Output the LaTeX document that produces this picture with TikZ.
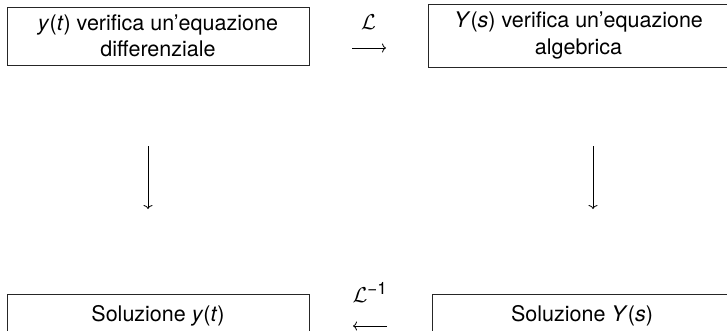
\RequirePackage{fix-cm}
\documentclass[tikz,border=0pt]{standalone}
\usepackage{fontspec}
\setmainfont{TeX Gyre Heros}
\usetikzlibrary{arrows.meta}

\tikzset{
  frame/.style={draw=black!85, line width=0.9pt, inner sep=0pt,
    align=center, font=\fontsize{21.5}{26.5}\selectfont},
  lbl/.style={inner sep=0pt, anchor=base, font=\fontsize{21.5}{26.5}\selectfont},
  arr/.style={line width=0.8pt, -{Computer Modern Rightarrow[length=4pt,width=9pt]}},
}
\newcommand{\vy}{\textit{y}}
\newcommand{\vt}{\textit{t}}
\newcommand{\vY}{\textit{Y}}
\newcommand{\vs}{\textit{s}}

\begin{document}
\begin{tikzpicture}[x=1pt,y=-1pt]
  \useasboundingbox (0,0) rectangle (727,330);

  % the four boxes
  \node[frame, minimum width=302pt, minimum height=58pt] (ode) at (158,36)
    {\vy(\vt) verifica un’equazione\\differenziale};
  \node[frame, minimum width=301pt, minimum height=63pt] (alg) at (578.5,35.5)
    {\vY(\vs) verifica un’equazione\\algebrica};
  \node[frame, minimum width=302pt, minimum height=44pt] (soly) at (158,316)
    {Soluzione \vy(\vt)};
  \node[frame, minimum width=300pt, minimum height=44pt] (solY) at (582,316)
    {Soluzione \vY(\vs)};

  % end points of the transform arrows
  \coordinate (fa) at (352,48);
  \coordinate (fb) at (386,48);
  \coordinate (ia) at (387,326);
  \coordinate (ib) at (353,326);
  \coordinate (la) at (148,146);
  \coordinate (lb) at (148,209);
  \coordinate (ra) at (593,146);
  \coordinate (rb) at (593,209);

  % transform and inverse transform
  \node[lbl] (L) at (368.5,29.5) {$\mathcal{L}$};
  \draw[arr] (fa) -- (fb);
  \node[lbl] (Linv) at (370,302) {$\mathcal{L}^{\hbox{\fontsize{17}{17}\selectfont −1}}$};
  \draw[arr] (ia) -- (ib);

  % vertical steps
  \draw[arr] (la) -- (lb);
  \draw[arr] (ra) -- (rb);
\end{tikzpicture}
\end{document}
